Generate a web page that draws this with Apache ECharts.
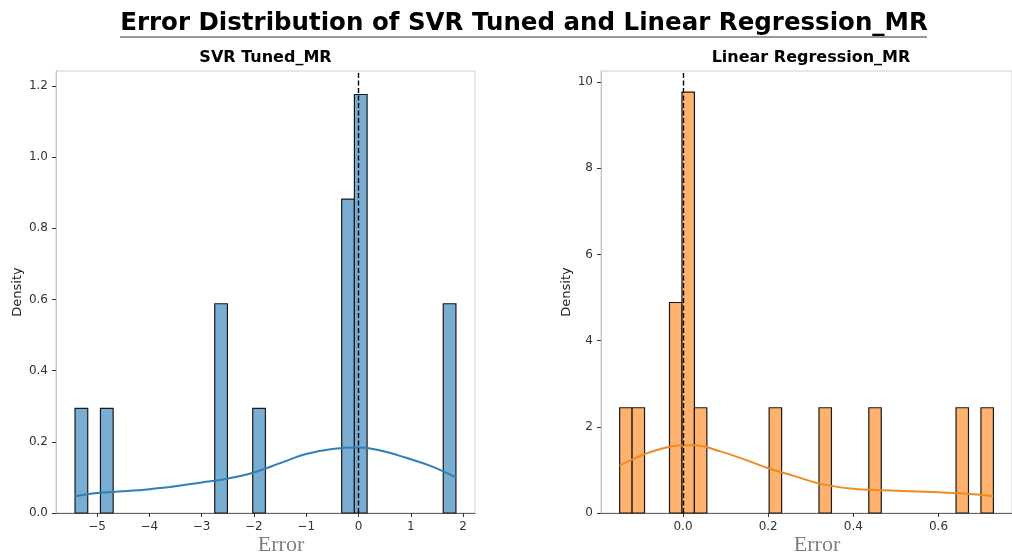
<!DOCTYPE html>
<html>
<head>
<meta charset="utf-8">
<script src="https://cdn.jsdelivr.net/npm/echarts@6/dist/echarts.min.js"></script>
<style>
html,body{margin:0;padding:0;background:#fff;}
#chart{width:1012px;height:554px;}
</style>
</head>
<body>
<div id="chart"></div>
<script>
// ---------- Data ----------
const mainTitle = 'Error Distribution of SVR Tuned and Linear Regression_MR';
const svrTitle = 'SVR Tuned_MR';
const lrTitle = 'Linear Regression_MR';
const xLabel = 'Error';
const yLabel = 'Density';

// SVR Tuned_MR histogram (non-empty bins): left edges and densities
const svrBinWidth = 0.2428;
const svrBinLeft = [-5.420, -4.934, -2.749, -2.022, -0.321, -0.078, 1.621];
const svrDensity = [0.294, 0.294, 0.588, 0.294, 0.882, 1.176, 0.588];
// SVR KDE curve
const svrKdeX = [-5.42, -5.0, -4.5, -4.0, -3.5, -3.0, -2.56, -2.0, -1.5, -1.0, -0.5, 0.0, 0.2, 0.5, 1.0, 1.4, 1.864];
const svrKdeY = [0.047, 0.056, 0.061, 0.067, 0.075, 0.086, 0.095, 0.114, 0.140, 0.166, 0.180, 0.184, 0.182, 0.173, 0.151, 0.131, 0.100];
const svrXTicks = [-5, -4, -3, -2, -1, 0, 1, 2];
const svrYTicks = [0.0, 0.2, 0.4, 0.6, 0.8, 1.0, 1.2];

// Linear Regression_MR histogram (non-empty bins)
const lrBinWidth = 0.02925;
const lrBinLeft = [-0.1487, -0.1195, -0.0317, -0.0024, 0.0268, 0.2023, 0.3193, 0.4363, 0.6411, 0.6996];
const lrDensity = [2.442, 2.442, 4.884, 9.768, 2.442, 2.442, 2.442, 2.442, 2.442, 2.442];
// LR KDE curve
const lrKdeX = [-0.149, -0.12, -0.065, 0.0, 0.027, 0.088, 0.142, 0.2, 0.264, 0.325, 0.4, 0.47, 0.6, 0.66, 0.729];
const lrKdeY = [1.10, 1.24, 1.45, 1.57, 1.57, 1.43, 1.25, 1.04, 0.85, 0.67, 0.56, 0.525, 0.48, 0.45, 0.39];
const lrXTicks = [0.0, 0.2, 0.4, 0.6];
const lrYTicks = [0, 2, 4, 6, 8, 10];

// ---------- Chart ----------
const FONT = 'DejaVu Sans';
const chart = echarts.init(document.getElementById('chart'), null, {renderer: 'canvas'});

function minusFmt(dec) {
  return function (v) {
    const s = dec === null ? String(v) : Number(v).toFixed(dec);
    return s.replace('-', '\u2212');
  };
}

function histSeries(idx, lefts, width, dens, fill) {
  return {
    type: 'custom',
    xAxisIndex: idx, yAxisIndex: idx,
    data: lefts.map((l, i) => [l, l + width, dens[i]]),
    encode: {x: [0, 1], y: 2},
    z: 2,
    renderItem: function (params, api) {
      const p0 = api.coord([api.value(0), api.value(2)]);
      const p1 = api.coord([api.value(1), 0]);
      return {
        type: 'rect',
        shape: {x: p0[0], y: p0[1], width: p1[0] - p0[0], height: p1[1] - p0[1]},
        style: {fill: fill, stroke: '#1a1a1a', lineWidth: 1.2}
      };
    },
    markLine: {
      silent: true, symbol: 'none', z: 5,
      label: {show: false},
      lineStyle: {type: [5, 2.5], color: '#000', width: 1.4},
      data: [{xAxis: 0}]
    }
  };
}

function kdeSeries(idx, xs, ys, color) {
  return {
    type: 'line', xAxisIndex: idx, yAxisIndex: idx,
    data: xs.map((x, i) => [x, ys[i]]),
    smooth: 0.4, symbol: 'none', z: 4,
    lineStyle: {color: color, width: 2}
  };
}

function xAxisCfg(idx, min, max, ticks, dec) {
  return {
    type: 'value', gridIndex: idx, min: min, max: max,
    axisLine: {show: true, onZero: false, lineStyle: {color: '#666', width: 1}},
    axisTick: {show: true, length: 4, customValues: ticks, lineStyle: {color: '#333'}},
    axisLabel: {customValues: ticks, margin: 8, color: '#333', fontFamily: FONT, fontSize: 12, formatter: minusFmt(dec)},
    splitLine: {show: false}
  };
}
function yAxisCfg(idx, max, ticks, dec, gap) {
  return {
    type: 'value', gridIndex: idx, min: 0, max: max,
    name: yLabel, nameLocation: 'middle', nameGap: gap,
    nameTextStyle: {color: '#222', fontFamily: FONT, fontSize: 13},
    axisLine: {show: true, onZero: false, lineStyle: {color: '#c4c4c4', width: 1}},
    axisTick: {show: true, length: 4, customValues: ticks, lineStyle: {color: '#333'}},
    axisLabel: {customValues: ticks, margin: 8, color: '#333', fontFamily: FONT, fontSize: 12, formatter: minusFmt(dec)},
    splitLine: {show: false}
  };
}

const option = {
  backgroundColor: '#fff',
  animation: false,
  grid: [
    {left: 56, top: 71, width: 419, height: 442, show: true, borderColor: '#cfcfcf', borderWidth: 1},
    {left: 601, top: 71, width: 420, height: 442, show: true, borderColor: '#cfcfcf', borderWidth: 1}
  ],
  xAxis: [
    xAxisCfg(0, -5.784, 2.228, svrXTicks, null),
    xAxisCfg(1, -0.1925, 0.7725, lrXTicks, 1)
  ],
  yAxis: [
    yAxisCfg(0, 1.242, svrYTicks, 1, 32),
    yAxisCfg(1, 10.256, lrYTicks, null, 28)
  ],
  series: [
    histSeries(0, svrBinLeft, svrBinWidth, svrDensity, '#79add2'),
    kdeSeries(0, svrKdeX, svrKdeY, '#2f7fb8'),
    histSeries(1, lrBinLeft, lrBinWidth, lrDensity, '#ffb26e'),
    kdeSeries(1, lrKdeX, lrKdeY, '#f08a24')
  ],
  graphic: [
    {type: 'text', x: 524, y: 24, z: 10,
     style: {text: mainTitle, fill: '#000', font: 'bold 24.5px "DejaVu Sans"', textAlign: 'center', textVerticalAlign: 'middle'}},
    {type: 'line', z: 10, shape: {x1: 120, y1: 37, x2: 927, y2: 37},
     style: {stroke: '#777', lineWidth: 1.5}},
    {type: 'text', x: 265.5, y: 58, z: 10,
     style: {text: svrTitle, fill: '#000', font: 'bold 16px "DejaVu Sans"', textAlign: 'center', textVerticalAlign: 'middle'}},
    {type: 'text', x: 811, y: 58, z: 10,
     style: {text: lrTitle, fill: '#000', font: 'bold 16px "DejaVu Sans"', textAlign: 'center', textVerticalAlign: 'middle'}},
    {type: 'text', x: 281, y: 545, z: 10,
     style: {text: xLabel, fill: '#808080', font: '22px "Liberation Serif"', textAlign: 'center', textVerticalAlign: 'middle'}},
    {type: 'text', x: 817, y: 545, z: 10,
     style: {text: xLabel, fill: '#808080', font: '22px "Liberation Serif"', textAlign: 'center', textVerticalAlign: 'middle'}}
  ]
};
chart.setOption(option);
</script>
</body>
</html>
